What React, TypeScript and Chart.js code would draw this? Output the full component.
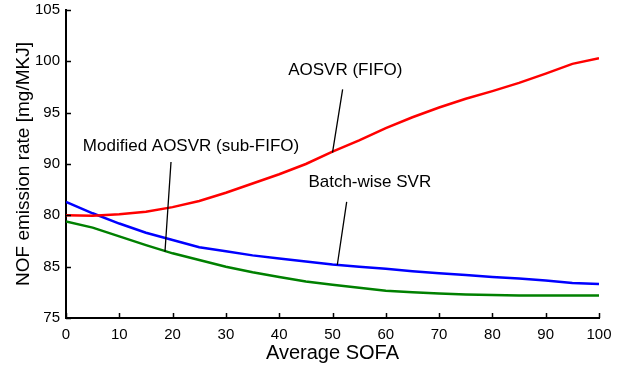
import React, { useEffect, useRef } from "react";
import { Chart, registerables } from "chart.js";

Chart.register(...registerables);

const xValues = [0, 5, 10, 15, 20, 25, 30, 35, 40, 45, 50, 55, 60, 65, 70, 75, 80, 85, 90, 95, 100];
const aosvrFifo = [85.0, 84.96, 85.1, 85.35, 85.8, 86.4, 87.2, 88.1, 89.0, 90.0, 91.2, 92.3, 93.5, 94.55, 95.5, 96.35, 97.1, 97.9, 98.8, 99.75, 100.3];
const batchSvr = [86.3, 85.2, 84.2, 83.3, 82.6, 81.9, 81.5, 81.1, 80.8, 80.5, 80.2, 80.0, 79.8, 79.55, 79.35, 79.2, 79.0, 78.85, 78.65, 78.4, 78.3];
const modifiedSub = [84.4, 83.8, 82.95, 82.1, 81.3, 80.65, 80.0, 79.45, 79.0, 78.55, 78.25, 77.95, 77.65, 77.5, 77.38, 77.3, 77.25, 77.18, 77.18, 77.18, 77.18];

const xTicks = [0, 10, 20, 30, 40, 50, 60, 70, 80, 90, 100];
const yTickValues = [75, 80, 85, 90, 95, 100, 105];
const yTickLabels = ["75", "85", "80", "90", "95", "100", "105"];

const annotationTexts = ["AOSVR (FIFO)", "Modified AOSVR (sub-FIFO)", "Batch-wise SVR"];
const annotationTextPos = [[52.4, 99.1], [23.45, 91.75], [57.0, 88.2]];
const annotationLines = [
  [[51.9, 97.27], [50.0, 91.1]],
  [[19.7, 90.2], [18.57, 81.46]],
  [[52.66, 86.32], [50.9, 80.16]],
];

const FONT = "'Liberation Sans', Arial, sans-serif";

const overlayPlugin = {
  id: "overlay",
  afterDraw(chart: any) {
    const ctx = chart.ctx;
    const xs = chart.scales.x;
    const ys = chart.scales.y;
    const area = chart.chartArea;
    ctx.save();
    ctx.strokeStyle = "#000";
    ctx.lineWidth = 1.5;
    ctx.beginPath();
    yTickValues.forEach((v) => {
      const py = Math.round(ys.getPixelForValue(v)) + 0.5;
      ctx.moveTo(area.left, py);
      ctx.lineTo(area.left + 5, py);
    });
    xTicks.forEach((v) => {
      const px = Math.round(xs.getPixelForValue(v)) + 0.5;
      ctx.moveTo(px, area.bottom);
      ctx.lineTo(px, area.bottom - 5);
    });
    ctx.stroke();
    ctx.lineWidth = 1.3;
    ctx.beginPath();
    annotationLines.forEach((ln) => {
      ctx.moveTo(xs.getPixelForValue(ln[0][0]), ys.getPixelForValue(ln[0][1]));
      ctx.lineTo(xs.getPixelForValue(ln[1][0]), ys.getPixelForValue(ln[1][1]));
    });
    ctx.stroke();
    ctx.fillStyle = "#000";
    ctx.font = `17px ${FONT}`;
    ctx.textAlign = "center";
    ctx.textBaseline = "middle";
    annotationTexts.forEach((t, i) => {
      ctx.fillText(t, xs.getPixelForValue(annotationTextPos[i][0]), ys.getPixelForValue(annotationTextPos[i][1]));
    });
    ctx.restore();
  },
};

export default function App() {
  const ref = useRef<HTMLCanvasElement | null>(null);
  useEffect(() => {
    if (!ref.current) return;
    const chart = new Chart(ref.current, {
      type: "line",
      data: {
        datasets: [
          {
            label: "AOSVR (FIFO)",
            data: xValues.map((x, i) => ({ x, y: aosvrFifo[i] })),
            borderColor: "#ff0000",
            borderWidth: 2.5,
            pointRadius: 0,
            tension: 0,
          },
          {
            label: "Batch-wise SVR",
            data: xValues.map((x, i) => ({ x, y: batchSvr[i] })),
            borderColor: "#0000ff",
            borderWidth: 2.5,
            pointRadius: 0,
            tension: 0,
          },
          {
            label: "Modified AOSVR (sub-FIFO)",
            data: xValues.map((x, i) => ({ x, y: modifiedSub[i] })),
            borderColor: "#008000",
            borderWidth: 2.5,
            pointRadius: 0,
            tension: 0,
          },
        ],
      },
      options: {
        animation: false,
        responsive: false,
        devicePixelRatio: 1,
        layout: { padding: { left: 0, top: 10, right: 18, bottom: 0 } },
        plugins: { legend: { display: false }, tooltip: { enabled: false } },
        scales: {
          x: {
            type: "linear",
            min: 0,
            max: 100,
            afterBuildTicks: (scale: any) => {
              scale.ticks = xTicks.map((v) => ({ value: v }));
            },
            afterFit: (scale: any) => {
              scale.height = 49;
              scale.paddingLeft = 0;
              scale.paddingRight = 0;
            },
            grid: { display: true, drawOnChartArea: false, drawTicks: false },
            border: { display: true, color: "#000", width: 2 },
            ticks: {
              color: "#000",
              font: { family: FONT, size: 15 },
              padding: 8,
              maxRotation: 0,
              autoSkip: false,
            },
            title: {
              display: true,
              text: "Average SOFA",
              color: "#000",
              font: { family: FONT, size: 20 },
              padding: { top: 0, bottom: 2 },
            },
          },
          y: {
            type: "linear",
            min: 75,
            max: 105,
            afterBuildTicks: (scale: any) => {
              scale.ticks = yTickValues.map((v) => ({ value: v }));
            },
            afterFit: (scale: any) => {
              scale.width = 66;
              scale.paddingTop = 0;
              scale.paddingBottom = 0;
            },
            grid: { display: true, drawOnChartArea: false, drawTicks: false },
            border: { display: true, color: "#000", width: 2 },
            ticks: {
              color: "#000",
              font: { family: FONT, size: 15 },
              padding: 6,
              autoSkip: false,
              callback: (value: any) => {
                const i = yTickValues.indexOf(Number(value));
                return i >= 0 ? yTickLabels[i] : "";
              },
            },
            title: {
              display: true,
              text: "NOF emission rate [mg/MKJ]",
              color: "#000",
              font: { family: FONT, size: 19 },
              padding: { top: 12, bottom: 0 },
            },
          },
        },
      },
      plugins: [overlayPlugin],
    } as any);
    return () => chart.destroy();
  }, []);
  return (
    <div style={{ position: "fixed", left: 0, top: 0, width: 617, height: 367, background: "#fff" }}>
      <canvas ref={ref} width={617} height={367} />
    </div>
  );
}
